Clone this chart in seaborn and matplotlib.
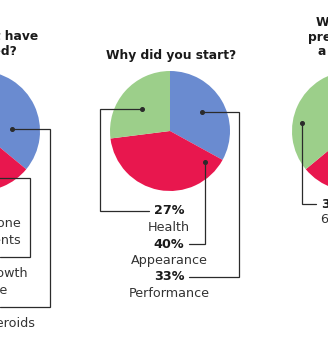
import math
import matplotlib
matplotlib.use("Agg")
import matplotlib.pyplot as plt
import seaborn as sns

# ---- survey answers (slices run clockwise from 12 o'clock) ----
start_labels = ["Performance", "Appearance", "Health"]
start_values = [33, 40, 27]

used_labels = ["Anabolic steroids", "Human growth\nhormone", "Testosterone\nsupplements"]
used_values = [36, 31, 33]

prefer_labels = ["Big arms", "Big chest", "6-pack abs"]
prefer_values = [28, 36, 36]

titles = ["What treatment have\nyou ever used?", "Why did you start?",
          "What do you\nprefer to have:\na big chest?"]

sns.set_theme(style="white")
plt.rcParams["font.family"] = ["DejaVu Sans"]

palette = sns.color_palette(["#6A8BD0", "#E8174E", "#9CCF8A"])
INK = "#2b2b2b"
W, H = 328, 345
R = 60


def Y(y):
    """Convert a top-down pixel row to the axes' bottom-up coordinate."""
    return H - y


# Page layout for each pie: centre, title anchor, label column(s) and
# leader-line routing (anchor angle/radius inside each slice + gutter x).
layout = [
    dict(values=used_values, labels=used_labels, title=titles[0],
         center=(-20, 131), title_xy=(-36, 44),
         cols=[(-20, "center")] * 3,
         rows=[307, 257, 207], step=16.6,
         anchors=[(86, 0.53), (186, 0.79), (290, 0.6)],
         gutters=[50, 30, -95]),
    dict(values=start_values, labels=start_labels, title=titles[1],
         center=(170, 131), title_xy=(171, 55),
         cols=[(169, "center")] * 3,
         rows=[277, 244, 211], step=16.5,
         anchors=[(59.4, 0.62), (132, 0.78), (308, 0.6)],
         gutters=[239, None, 100]),
    dict(values=prefer_values, labels=prefer_labels, title=titles[2],
         center=(352, 131), title_xy=(360, 37),
         cols=[(440, "left"), (440, "left"), (321, "left")],
         rows=[270, 237, 204], step=16.0,
         anchors=[(40, 0.6), (150, 0.7), (279, 0.84)],
         gutters=[430, 420, None]),
]

fig = plt.figure(figsize=(W / 100, H / 100), dpi=100)
ax = fig.add_axes([0, 0, 1, 1])

TITLE_FS = 8.8
BODY_FS = 9.2

pct_texts = []
for p in layout:
    cx, cy = p["center"]
    ax.pie(p["values"], colors=palette, startangle=90, counterclock=False,
           radius=R, center=(cx, Y(cy)), frame=False,
           wedgeprops=dict(linewidth=0))
    ax.text(p["title_xy"][0], Y(p["title_xy"][1]), p["title"], ha="center",
            va="center", fontsize=TITLE_FS, fontweight="bold", color="#1a1a1a",
            linespacing=1.15)

    # label block for each slice: bold share, then the answer text
    texts = {}
    for i, value in enumerate(p["values"]):
        x, ha = p["cols"][i]
        row = p["rows"][i]
        t = ax.text(x, Y(row), f"{value}%", ha=ha, va="center",
                    fontsize=BODY_FS, fontweight="bold", color="#1a1a1a")
        texts[i] = (t, row)
        for k, line in enumerate(p["labels"][i].split("\n"), start=1):
            ax.text(x, Y(row + k * p["step"]), line, ha=ha, va="center",
                    fontsize=BODY_FS, color="#333333")
    pct_texts.append(texts)

ax.set_xlim(0, W)
ax.set_ylim(0, H)
ax.set_aspect("equal")
ax.axis("off")

fig.canvas.draw()
inv = ax.transData.inverted()

# leader lines from a dot inside each slice to its percentage
for p, texts in zip(layout, pct_texts):
    cx, cy = p["center"]
    for i, (ang, rf) in enumerate(p["anchors"]):
        a = math.radians(ang)
        dx, dy = cx + rf * R * math.sin(a), Y(cy) + rf * R * math.cos(a)
        t, row = texts[i]
        bb = t.get_window_extent()
        (x0, _), (x1, _) = inv.transform([(bb.x0, bb.y0), (bb.x1, bb.y1)])
        gx = p["gutters"][i] if p["gutters"][i] is not None else dx
        end = x0 - 5 if gx < x0 else x1 + 5
        ax.plot([dx, gx, gx, end], [dy, dy, Y(row), Y(row)], color=INK,
                lw=0.9, solid_joinstyle="miter", zorder=3)
        ax.plot([dx], [dy], "o", ms=2.6, color=INK, zorder=4)

ax.set_xlim(0, W)
ax.set_ylim(0, H)
fig.savefig("out.png", dpi=100, facecolor="white")
